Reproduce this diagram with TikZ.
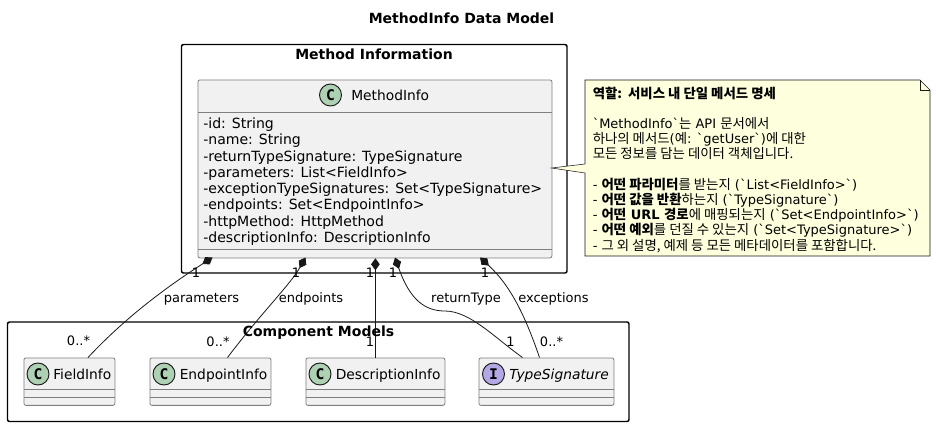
\documentclass[tikz,border=0pt]{standalone}
\usepackage{fontspec}
\setmainfont{DejaVu Sans}
\newfontfamily\notefont{DejaVu Sans}
\newfontfamily\kofont{Noto Sans CJK KR}[Scale=1.03]
\newfontfamily\glyphfont{DejaVu Sans Mono}
\newcommand{\ko}[1]{{\kofont #1}}
\usetikzlibrary{arrows.meta}
\definecolor{classfill}{HTML}{F1F1F1}
\definecolor{classline}{HTML}{7F7F7F}
\definecolor{darkline}{HTML}{181818}
\definecolor{notefill}{HTML}{FEFFDD}
\definecolor{cfill}{HTML}{ADD1B2}
\definecolor{ifill}{HTML}{B4A7E5}
\tikzset{
  packagebox/.style={draw=black, line width=1.1pt, rounded corners=1.5pt},
  classbox/.style={draw=classline, fill=classfill, line width=0.6pt, rounded corners=1.5pt, inner sep=0pt, anchor=north west},
  spot/.style={circle, draw=darkline, line width=0.7pt, minimum size=16.5pt, inner sep=0pt, font=\glyphfont\bfseries\fontsize{11}{11}\selectfont},
  classname/.style={font=\fontsize{10.35}{12}\selectfont, anchor=base west, inner sep=0pt},
  member/.style={font=\fontsize{10.55}{12}\selectfont, anchor=base west, inner sep=0pt},
  lbl/.style={font=\fontsize{9.75}{12}\selectfont, inner sep=0pt},
  compose/.style={draw=darkline, line width=0.6pt, {Diamond[length=9pt, width=6.5pt, fill=darkline]}-},
}
\begin{document}
\begin{tikzpicture}[x=0.75pt, y=-0.75pt]
\useasboundingbox (0,0) rectangle (936,426);
% title
\node (title) [font=\bfseries\fontsize{10.5}{12}\selectfont] at (461.5,18) {MethodInfo Data Model};

% packages
\draw[packagebox] (181.5,44.5) rectangle (567,273);
\node (methodpkg) [font=\bfseries\fontsize{10.5}{12}\selectfont] at (374,54) {Method Information};
\draw[packagebox] (7.5,322) rectangle (629,421.5);

% main class
\node (methodinfo) [classbox, minimum width=265.5pt, minimum height=133.5pt] at (197.5,79.5) {};
\draw[classline, line width=0.6pt] (197.5,112) -- (551.5,112);
\draw[classline, line width=0.6pt] (197.5,249) -- (551.5,249);
\node (methodspot) [spot, fill=cfill] at (330.5,95) {C};
\node (methodname) [classname] at (351,100) {MethodInfo};
\node (m1) [member] at (203,128) {-id: String};
\node (m2) [member] at (203,144.5) {-name: String};
\node (m3) [member] at (203,161) {-returnTypeSignature: TypeSignature};
\node (m4) [member] at (203,177) {-parameters: List<FieldInfo>};
\node (m5) [member] at (203,193.5) {-exceptionTypeSignatures: Set<TypeSignature>};
\node (m6) [member] at (203,209.5) {-endpoints: Set<EndpointInfo>};
\node (m7) [member] at (203,226) {-httpMethod: HttpMethod};
\node (m8) [member] at (203,242) {-descriptionInfo: DescriptionInfo};

% small classes
\node (fieldinfo) [classbox, minimum width=68.25pt, minimum height=35.6pt] at (23.5,357.5) {};
\draw[classline, line width=0.6pt] (23.5,389.5) -- (114.5,389.5) (23.5,397.5) -- (114.5,397.5);
\node (fieldspot) [spot, fill=cfill] at (38,374) {C};
\node (fieldname) [classname] at (53,379) {FieldInfo};

\node (endpointinfo) [classbox, minimum width=90.75pt, minimum height=35.6pt] at (149.5,357.5) {};
\draw[classline, line width=0.6pt] (149.5,389.5) -- (270.5,389.5) (149.5,397.5) -- (270.5,397.5);
\node (endpointspot) [spot, fill=cfill] at (164,374) {C};
\node (endpointname) [classname] at (179.5,379) {EndpointInfo};

\node (descriptioninfo) [classbox, minimum width=104.25pt, minimum height=35.6pt] at (305.5,357.5) {};
\draw[classline, line width=0.6pt] (305.5,389.5) -- (444.5,389.5) (305.5,397.5) -- (444.5,397.5);
\node (descriptionspot) [spot, fill=cfill] at (320,374) {C};
\node (descriptionname) [classname] at (335.5,379) {DescriptionInfo};

\node (typesignature) [classbox, minimum width=101.25pt, minimum height=35.6pt] at (478.5,357.5) {};
\draw[classline, line width=0.6pt] (478.5,389.5) -- (613.5,389.5) (478.5,397.5) -- (613.5,397.5);
\node (typespot) [spot, fill=ifill] at (493.5,374) {I};
\node (typename) [classname, font=\itshape\fontsize{10.35}{12}\selectfont] at (509,379) {TypeSignature};

% free ends of the connectors
\coordinate (fromfield) at (212.5,257.5);
\coordinate (fromendpoint) at (305.5,257.5);
\coordinate (fromreturn) at (395,257.5);
\coordinate (fromexception) at (480,257.5);
\coordinate (tofield) at (88,357.5);
\coordinate (toendpoint) at (227.5,357.5);
\coordinate (toreturn) at (522.5,357.5);
\coordinate (toexception) at (539.5,357.5);

% compositions
\draw[compose] (fromfield) .. controls (165,288) and (125,318) .. (tofield);
\draw[compose] (fromendpoint) .. controls (290,285) and (262,312) .. (toendpoint);
\draw[compose] (descriptioninfo.north |- methodinfo.south) -- (descriptioninfo.north);
\draw[compose] (fromreturn) .. controls (410,300) and (425,311) .. (445,311) .. controls (470,311) and (495,338) .. (toreturn);
\draw[compose] (fromexception) .. controls (510,285) and (525,315) .. (toexception);

\node (componentpkg) [font=\bfseries\fontsize{10.5}{12}\selectfont] at (318.5,333) {Component Models};

% multiplicities and role names
\node (c1) [lbl] at (196,273) {1};
\node (r1) [lbl] at (201.5,299) {parameters};
\node (d1) [lbl] at (78.5,341) {0..*};
\node (c2) [lbl] at (296,273) {1};
\node (r2) [lbl] at (311,299) {endpoints};
\node (d2) [lbl] at (218,342) {0..*};
\node (c3) [lbl] at (370,273) {1};
\node (d3) [lbl] at (370,342) {1};
\node (c4) [lbl] at (393,273) {1};
\node (r4) [lbl] at (466,299) {returnType};
\node (d4) [lbl] at (510.5,342) {1};
\node (c5) [lbl] at (485,273) {1};
\node (r5) [lbl] at (553.5,299) {exceptions};
\node (d5) [lbl] at (551.5,342) {0..*};

% note
\coordinate (notefoot) at (551.5,168);
\filldraw[draw=darkline, fill=notefill, line width=0.4pt] (585,80) -- (920,80) -- (930,90) -- (930,256) -- (585,256) -- (585,173) -- (notefoot) -- (585,164) -- cycle;
\draw[draw=darkline, line width=0.4pt] (920,80) -- (920,90) -- (930,90);
\node (notetext) [anchor=north west, align=left, inner sep=0pt, font=\notefont\fontsize{9.75}{11.4}\selectfont] at (592.5,86.5) {\lineskiplimit=-20pt
{\bfseries \ko{역할:} \ko{서비스 내 단일 메서드 명세}}\\
\ \\
`MethodInfo`\ko{는} API \ko{문서에서}\\
\ko{하나의 메서드}(\ko{예}: `getUser`)\ko{에 대한}\\
\ko{모든 정보를 담는 데이터 객체입니다.}\\
\ \\
- {\bfseries\ko{어떤 파라미터}}\ko{를 받는지} (`List<FieldInfo>`)\\
- {\bfseries\ko{어떤 값을 반환}}\ko{하는지} (`TypeSignature`)\\
- {\bfseries\ko{어떤} URL \ko{경로}}\ko{에 매핑되는지} (`Set<EndpointInfo>`)\\
- {\bfseries\ko{어떤 예외}}\ko{를 던질 수 있는지} (`Set<TypeSignature>`)\\
- \ko{그 외 설명, 예제 등 모든 메타데이터를 포함합니다.}};
\end{tikzpicture}
\end{document}
